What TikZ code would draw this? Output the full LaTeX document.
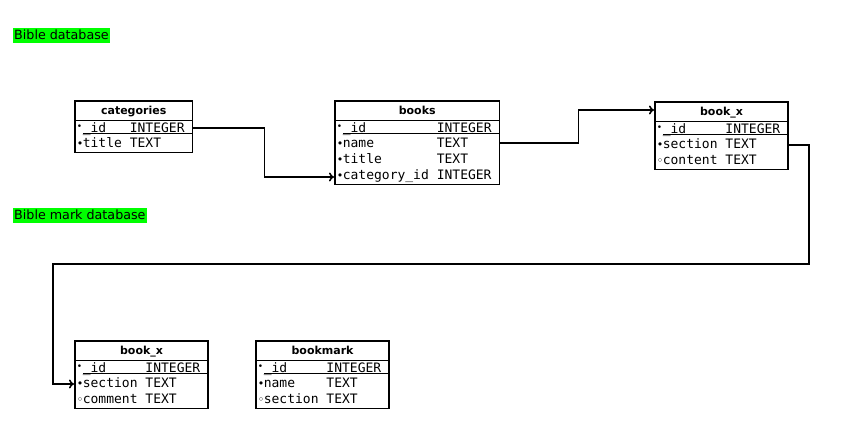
\documentclass[tikz,border=0pt]{standalone}
\usepackage{fontspec}
\setmainfont{DejaVu Sans}
\setsansfont{DejaVu Sans}
\setmonofont{DejaVu Sans Mono}
\usepackage{array}
\usetikzlibrary{arrows.meta}

\def\Pk{\makebox[6pt][l]{\raisebox{3pt}{\sffamily\fontsize{9}{9}\selectfont •}}}
\def\Fd{\makebox[6pt][l]{\sffamily\fontsize{11}{11}\selectfont •}}
\def\Op{\makebox[6pt][l]{\sffamily\fontsize{11}{11}\selectfont ◦}}
\def\Hd#1{\multicolumn{3}{c}{\rule{0pt}{14pt}\sffamily\bfseries\fontsize{11}{16}\selectfont #1}\\\hline}
\def\Ul{\\[-4pt]\noalign{\global\arrayrulewidth=0.8pt}\cline{2-3}\noalign{\vskip 3.6pt}}
\def\Cols{@{\hspace{2pt}}l@{}l@{\hspace{7.9pt}}l@{\hspace{8pt}}}

\tikzset{
  tbl/.style={draw, line width=1.6pt, inner sep=0pt, anchor=north west, fill=white,
    font=\ttfamily\fontsize{13}{16}\selectfont\setlength\arrayrulewidth{1.4pt}},
  conn/.style={line width=1.6pt, -{To[length=5pt,width=9pt]}},
  lbl/.style={fill=green, inner xsep=1pt, inner ysep=1pt, anchor=north west,
    text height=10pt, text depth=2.5pt, font=\fontsize{12.7}{14}\selectfont}
}

\begin{document}
\begin{tikzpicture}[x=1pt,y=1pt]
  \useasboundingbox (0,0) rectangle (844,-438);

  \node[lbl] (biblelbl) at (13,-28) {Bible database};
  \node[lbl] (marklbl) at (13,-208) {Bible mark database};

  % Bible database
  \node[tbl] (categories) at (74,-100) {\expandafter\tabular\expandafter{\Cols}
    \Hd{categories}
    \Pk & \_id & INTEGER \Ul
    \Fd & title & TEXT \\
  \endtabular};

  \node[tbl] (books) at (334,-100) {\expandafter\tabular\expandafter{\Cols}
    \Hd{books}
    \Pk & \_id & INTEGER \Ul
    \Fd & name & TEXT \\
    \Fd & title & TEXT \\
    \Fd & category\_id & INTEGER \\
  \endtabular};

  \node[tbl] (bookx) at (654,-101) {\expandafter\tabular\expandafter{\Cols}
    \Hd{book\_x}
    \Pk & \_id & INTEGER \Ul
    \Fd & section & TEXT \\
    \Op & content & TEXT \\
  \endtabular};

  % Bible mark database
  \node[tbl] (markbookx) at (74,-340) {\expandafter\tabular\expandafter{\Cols}
    \Hd{book\_x}
    \Pk & \_id & INTEGER \Ul
    \Fd & section & TEXT \\
    \Op & comment & TEXT \\
  \endtabular};

  \node[tbl] (bookmark) at (255,-340) {\expandafter\tabular\expandafter{\Cols}
    \Hd{bookmark}
    \Pk & \_id & INTEGER \Ul
    \Fd & name & TEXT \\
    \Op & section & TEXT \\
  \endtabular};

  \coordinate (bend) at (53,-264);

  \draw[conn] ([yshift=-28]categories.north east) -- ++(71,0) |- ([yshift=-77]books.north west);
  \draw[conn] ([yshift=-43]books.north east) -- ++(78,0) |- ([yshift=-9]bookx.north west);
  \draw[conn] ([yshift=-44]bookx.north east) -- ++(20,0) |- (bend) |- ([yshift=-44]markbookx.north west);

\end{tikzpicture}
\end{document}
